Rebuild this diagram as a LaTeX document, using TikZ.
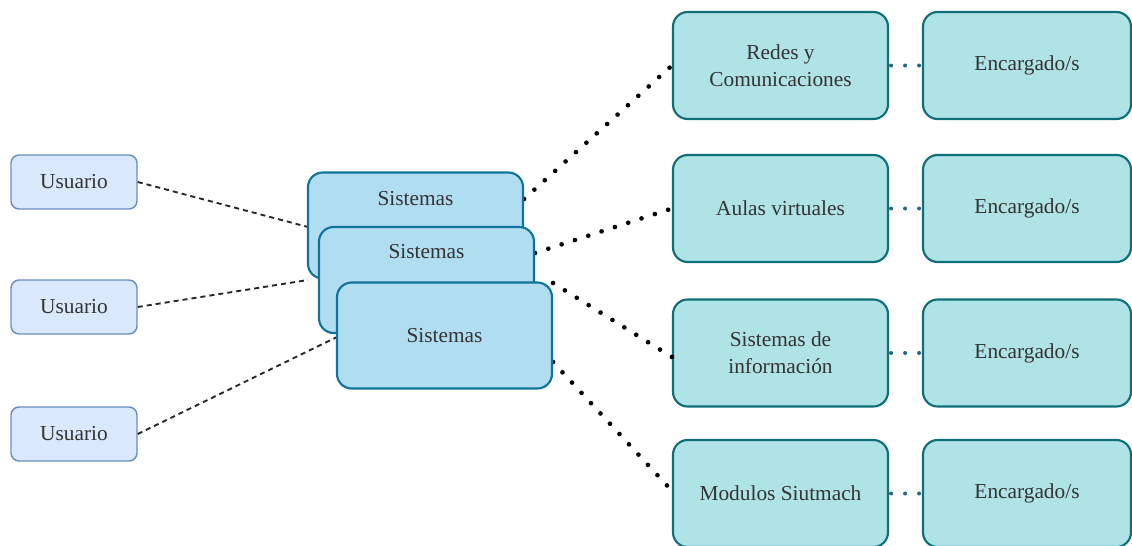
\documentclass[tikz,border=0pt]{standalone}
\usepackage{fontspec}
\setmainfont{Liberation Serif}
\begin{document}
\begin{tikzpicture}[x=0.75pt,y=-0.75pt,
  font=\fontsize{16}{20}\selectfont,
  txt/.style={text=black!80, align=center},
  userbox/.style={draw=userline, fill=userfill, line width=1.1pt, rounded corners=6pt,
    minimum width=94.5pt, minimum height=40.5pt, txt},
  sysbox/.style={draw=sysline, fill=sysfill, line width=1.6pt, rounded corners=11pt,
    minimum width=161.25pt, minimum height=79.5pt, txt},
  areabox/.style={draw=arealine, fill=areafill, line width=1.6pt, rounded corners=11pt,
    minimum width=161.25pt, minimum height=80.25pt, txt},
  ownerbox/.style={areabox, minimum width=156pt},
  dashlink/.style={draw=black!85, line width=1.4pt, dash pattern=on 3.8pt off 3pt},
  dotlink/.style={draw=black, line width=3.5pt, line cap=round, dash pattern=on 0pt off 10.5pt},
  pairlink/.style={draw=pairdot, line width=3pt, line cap=round, dash pattern=on 0pt off 10.5pt},
]
\definecolor{userfill}{HTML}{DAE8FC}
\definecolor{userline}{HTML}{6C8EBF}
\definecolor{sysfill}{HTML}{B1DDF0}
\definecolor{sysline}{HTML}{10739E}
\definecolor{areafill}{HTML}{B0E3E6}
\definecolor{arealine}{HTML}{0E6F78}
\definecolor{pairdot}{HTML}{2A6480}

\useasboundingbox (0,0) rectangle (1132,546);

% users
\node[userbox] (u1) at (74,182) {Usuario};
\node[userbox] (u2) at (74,307) {Usuario};
\node[userbox] (u3) at (74,434) {Usuario};

% link end points on the stacked system cards
\coordinate (s1in) at (308,227);
\coordinate (s2in) at (308,280);
\coordinate (s3in) at (337,337);
\coordinate (s1out) at (524,199);
\coordinate (s2out) at (535,253);
\coordinate (s3top) at (553,283);
\coordinate (s3out) at (553,362);

% areas and their owners
\node[areabox]  (a1) at (780.5,65.5)  {Redes y\\Comunicaciones};
\node[areabox]  (a2) at (780.5,208.5) {Aulas virtuales};
\node[areabox]  (a3) at (780.5,353)   {Sistemas de\\información};
\node[areabox]  (a4) at (780.5,493.5) {Modulos Siutmach};
\node[ownerbox] (o1) at (1027,65.5)  {Encargado/s};
\node[ownerbox] (o2) at (1027,208.5) {Encargado/s};
\node[ownerbox] (o3) at (1027,353)   {Encargado/s};
\node[ownerbox] (o4) at (1027,493.5) {Encargado/s};

% connectors
\draw[dashlink] (u1.east) -- (s1in);
\draw[dashlink] (u2.east) -- (s2in);
\draw[dashlink] (u3.east) -- (s3in);

\draw[dotlink] (s1out) -- (a1.west);
\draw[dotlink] (s2out) -- (a2.west);
\draw[dotlink] (s3top) -- ([yshift=-3pt]a3.west);
\draw[dotlink] (s3out) -- ([yshift=2pt]a4.west);

\foreach \i in {1,...,4}{
  \draw[pairlink] ([xshift=1.5pt]a\i.east) -- ([xshift=-0.5pt]o\i.west);
}

% stacked system cards
\node[sysbox] (s1) at (415.5,225.5) {};
\node[txt] (s1t) at ([yshift=-20pt]s1.north) {Sistemas};
\node[sysbox] (s2) at (426.5,280) {};
\node[txt] (s2t) at ([yshift=-19.5pt]s2.north) {Sistemas};
\node[sysbox] (s3) at (444.5,335.5) {Sistemas};
\end{tikzpicture}
\end{document}
